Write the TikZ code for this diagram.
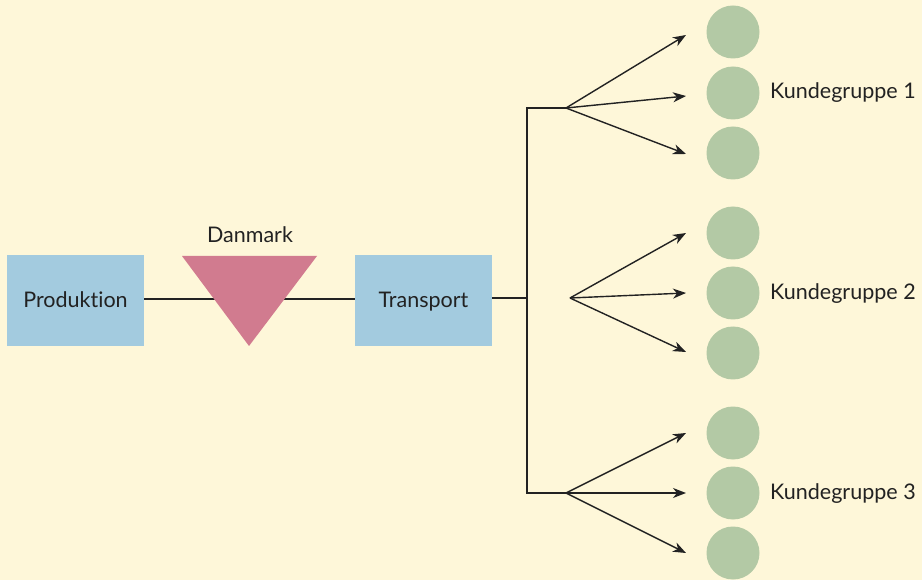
\documentclass[tikz,border=0pt]{standalone}
\usepackage{fontspec}
\setmainfont{Lato}[Ligatures={NoCommon,NoRequired,NoContextual}]
\usetikzlibrary{arrows.meta}
\definecolor{bg}{HTML}{FEF7D9}
\definecolor{boxblue}{HTML}{A3CBDF}
\definecolor{tripink}{HTML}{D17B8F}
\definecolor{circgreen}{HTML}{B3C9A5}
\definecolor{ink}{HTML}{222222}
\begin{document}
\begin{tikzpicture}[x=1pt,y=-1pt,
  stagebox/.style={fill=boxblue,draw=none,minimum width=137pt,minimum height=91pt,inner sep=0pt},
  lbl/.style={text=ink,font=\fontsize{21.5}{24}\selectfont,inner sep=0pt},
  cust/.style={circle,fill=circgreen,draw=none,minimum size=53pt,inner sep=0pt},
  conn/.style={draw=ink,line width=1.4pt},
  arr/.style={draw=ink,line width=1.4pt,-{Stealth[length=13pt,width=10pt,inset=4pt]}}]
\useasboundingbox[fill=bg] (0,0) rectangle (922,580);
\node[stagebox] (prod) at (75.5,300.5) {};
\node[stagebox] (trans) at (423.5,300.5) {};
\node[lbl,anchor=base] (prodt) at (75.5,308) {Produktion};
\node[lbl,anchor=base] (transt) at (423.5,308) {Transport};
\draw[conn] (prod.east |- 0,299) -- (trans.west |- 0,299);
\coordinate (t1) at (182,256);
\coordinate (t2) at (317,256);
\coordinate (t3) at (249,346);
\fill[tripink] (t1) -- (t2) -- (t3) -- cycle;
\node[lbl,anchor=base] (dk) at (250,243) {Danmark};
% distribution
\coordinate (trunk) at (527,298);
\coordinate (top) at (527,108);
\coordinate (bot) at (527,493);
\coordinate (b1) at (566,108);
\coordinate (b2) at (570,298);
\coordinate (b3) at (566,493);
\draw[conn] (trans.east |- 0,298) -- (trunk);
\draw[conn,line cap=rect] (b1) -- (top) -- (bot) -- (b3);
\foreach \g/\ya/\yb/\yc/\yl in {1/32/93/153/99, 2/233/293/353/300, 3/433/493/553/499}{
  \node[cust] (c\g a) at (733,\ya) {};
  \node[cust] (c\g b) at (733,\yb) {};
  \node[cust] (c\g c) at (733,\yc) {};
  \node[lbl,anchor=base west] (k\g) at (770,\yl) {Kundegruppe \g};
}
\draw[arr] (b1) -- (686,35);
\draw[arr] (b1) -- (686,96);
\draw[arr] (b1) -- (686,154);
\draw[arr] (b2) -- (686,233);
\draw[arr] (b2) -- (686,293);
\draw[arr] (b2) -- (686,352);
\draw[arr] (b3) -- (686,433);
\draw[arr] (b3) -- (686,493);
\draw[arr] (b3) -- (686,553);
\end{tikzpicture}
\end{document}
